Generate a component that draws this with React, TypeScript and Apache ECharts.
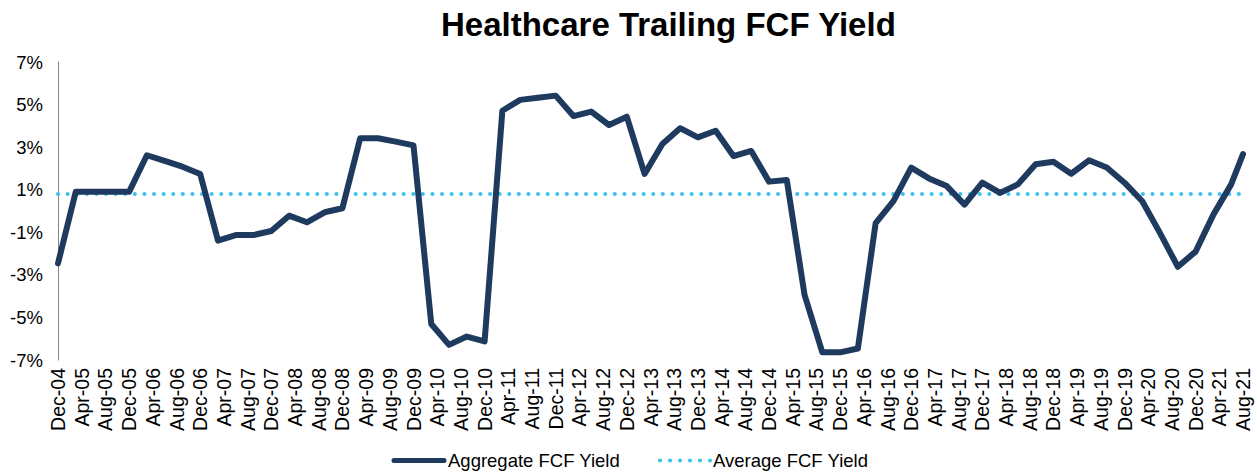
import React, { useEffect, useRef } from "react";
import * as echarts from "echarts";

const dates = [
  "Dec-04", "Mar-05", "Jun-05", "Sep-05", "Dec-05", "Mar-06", "Jun-06", "Sep-06", "Dec-06",
  "Mar-07", "Jun-07", "Sep-07", "Dec-07", "Mar-08", "Jun-08", "Sep-08", "Dec-08",
  "Mar-09", "Jun-09", "Sep-09", "Dec-09", "Mar-10", "Jun-10", "Sep-10", "Dec-10",
  "Mar-11", "Jun-11", "Sep-11", "Dec-11", "Mar-12", "Jun-12", "Sep-12", "Dec-12",
  "Mar-13", "Jun-13", "Sep-13", "Dec-13", "Mar-14", "Jun-14", "Sep-14", "Dec-14",
  "Mar-15", "Jun-15", "Sep-15", "Dec-15", "Mar-16", "Jun-16", "Sep-16", "Dec-16",
  "Mar-17", "Jun-17", "Sep-17", "Dec-17", "Mar-18", "Jun-18", "Sep-18", "Dec-18",
  "Mar-19", "Jun-19", "Sep-19", "Dec-19", "Mar-20", "Jun-20", "Sep-20", "Dec-20",
  "Mar-21", "Jun-21", "Aug-21",
];

const aggregateYield = [
  -2.46, 0.9, 0.9, 0.9, 0.9, 2.62, 2.35, 2.08, 1.74,
  -1.39, -1.13, -1.13, -0.94, -0.22, -0.53, -0.06, 0.13,
  3.42, 3.42, 3.26, 3.08, -5.31, -6.29, -5.9, -6.13,
  4.71, 5.22, 5.32, 5.42, 4.46, 4.67, 4.04, 4.43,
  1.74, 3.15, 3.89, 3.46, 3.77, 2.58, 2.82, 1.38,
  1.46, -3.94, -6.64, -6.64, -6.46, -0.57, 0.46, 2.04,
  1.53, 1.17, 0.3, 1.33, 0.85, 1.25, 2.2, 2.31,
  1.75, 2.38, 2.04, 1.33, 0.46, -1.04, -2.62, -1.91,
  -0.17, 1.25, 2.67,
];

const averageYield = 0.8;
const averageSpan = ["Dec-04", "Aug-21"];

const monthNames = ["Jan", "Feb", "Mar", "Apr", "May", "Jun", "Jul", "Aug", "Sep", "Oct", "Nov", "Dec"];
const startYear = 2004;
const startMonth = 11; // Dec

function monthIndex(label: string): number {
  const [m, yy] = label.split("-");
  const year = 2000 + parseInt(yy, 10);
  return (year - startYear) * 12 + monthNames.indexOf(m) - startMonth;
}

function indexLabel(idx: number): string {
  const total = startMonth + idx;
  const year = startYear + Math.floor(total / 12);
  const month = total % 12;
  return monthNames[month] + "-" + String(year % 100).padStart(2, "0");
}

const FONT = "'Liberation Sans', Arial, sans-serif";

export default function App() {
  const ref = useRef<HTMLDivElement>(null);

  useEffect(() => {
    if (!ref.current) return;
    const chart = echarts.init(ref.current, undefined, { renderer: "svg" });
    const maxIdx = monthIndex(dates[dates.length - 1]);
    chart.setOption({
      animation: false,
      backgroundColor: "#ffffff",
      title: {
        text: "Healthcare Trailing FCF Yield",
        left: 436,
        top: 3,
        textStyle: { fontFamily: FONT, fontSize: 33, fontWeight: "bold", color: "#000000" },
      },
      grid: { left: 58, right: 14, top: 62, bottom: 114, containLabel: false },
      xAxis: {
        type: "value",
        min: 0,
        max: maxIdx,
        interval: 4,
        axisLine: { show: false },
        axisTick: { show: false },
        splitLine: { show: false },
        axisLabel: {
          rotate: 90,
          margin: 8,
          fontFamily: FONT,
          fontSize: 19.5,
          color: "#000000",
          formatter: (v: number) => indexLabel(v),
        },
      },
      yAxis: {
        type: "value",
        min: -7,
        max: 7,
        interval: 1,
        axisLine: { show: true, lineStyle: { color: "#868686", width: 1 } },
        axisTick: { show: false },
        splitLine: { show: false },
        axisLabel: {
          margin: 15,
          fontFamily: FONT,
          fontSize: 18.5,
          color: "#000000",
          formatter: (v: number) => (Math.abs(v) % 2 === 1 ? v + "%" : ""),
        },
      },
      series: [
        {
          name: "Average FCF Yield",
          type: "line",
          symbol: "none",
          data: averageSpan.map((d) => [monthIndex(d), averageYield]),
          lineStyle: { color: "#3fc0f0", width: 4, type: [0.1, 9.5], cap: "round" },
          z: 2,
        },
        {
          name: "Aggregate FCF Yield",
          type: "line",
          symbol: "none",
          data: dates.map((d, i) => [monthIndex(d), aggregateYield[i]]),
          lineStyle: { color: "#1e3a5f", width: 6, cap: "round", join: "round" },
          z: 3,
        },
      ],
      graphic: [
        {
          type: "line",
          shape: { x1: 394, y1: 460.5, x2: 444, y2: 460.5 },
          style: { stroke: "#1e3a5f", lineWidth: 5, lineCap: "round" },
        },
        {
          type: "text",
          x: 448,
          y: 460.5,
          style: { text: "Aggregate FCF Yield", fontFamily: FONT, fontSize: 18.5, fill: "#000000", verticalAlign: "middle" },
        },
        {
          type: "line",
          shape: { x1: 660, y1: 460.5, x2: 710, y2: 460.5 },
          style: { stroke: "#3fc0f0", lineWidth: 4, lineCap: "round", lineDash: [0.1, 9.9] },
        },
        {
          type: "text",
          x: 713,
          y: 460.5,
          style: { text: "Average FCF Yield", fontFamily: FONT, fontSize: 18.5, fill: "#000000", verticalAlign: "middle" },
        },
      ],
    });
    return () => chart.dispose();
  }, []);

  return (
    <div
      ref={ref}
      style={{ position: "fixed", left: 0, top: 0, width: 1257, height: 474, background: "#fff" }}
    />
  );
}
